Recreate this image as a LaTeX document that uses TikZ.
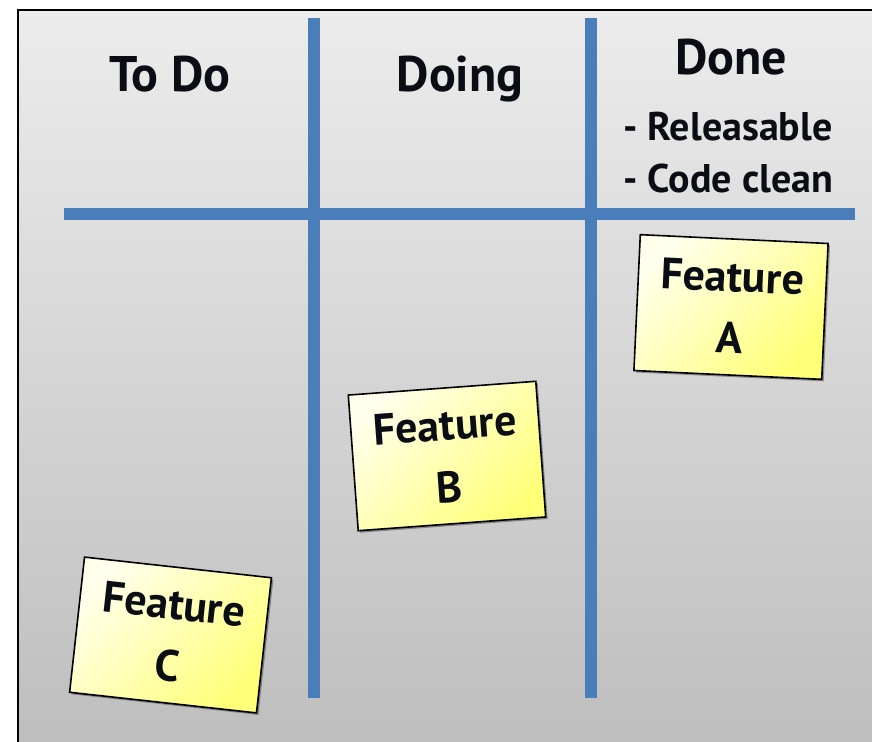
\documentclass[tikz,border=0pt]{standalone}
\usepackage{fontspec}
\setmainfont{PT Sans}
\usetikzlibrary{shadows}
\definecolor{boardtop}{RGB}{236,236,236}
\definecolor{boardbottom}{RGB}{189,189,189}
\definecolor{laneblue}{RGB}{74,126,187}
\definecolor{inkblack}{RGB}{10,14,20}
\definecolor{notelight}{RGB}{255,255,236}
\definecolor{notedark}{RGB}{255,255,120}

\begin{document}
\begin{tikzpicture}[x=1pt,y=-1pt,
  lane/.style={draw=laneblue, line width=12pt},
  heading/.style={text=inkblack, font=\bfseries\fontsize{50}{60}\selectfont, anchor=base, inner sep=0pt},
  criterion/.style={text=inkblack, font=\bfseries\fontsize{40}{50}\selectfont, anchor=base west, inner sep=0pt},
  sticky/.style={draw=black, line width=1.6pt, minimum width=188pt, minimum height=136pt,
    top color=notelight, bottom color=notedark, shading angle=45,
    align=center, text=inkblack, font=\bfseries\fontsize{44}{62}\selectfont, inner sep=0pt,
    drop shadow={shadow xshift=2pt, shadow yshift=-2pt, opacity=0.35, fill=black}}]

\useasboundingbox (0,0) rectangle (872,741);

% board
\begin{scope}
  \clip (0,0) rectangle (872,741);
  \shade[top color=boardtop, bottom color=boardbottom] (18,10) rectangle (900,760);
  \draw[line width=2pt, black] (18,760) -- (18,10) -- (900,10);
\end{scope}

% lane dividers
\coordinate (h1) at (64,214);
\coordinate (h2) at (855,214);
\coordinate (v1t) at (313.5,18);
\coordinate (v1b) at (313.5,698);
\coordinate (v2t) at (590.5,18);
\coordinate (v2b) at (590.5,698);
\draw[lane] (h1) -- (h2);
\draw[lane] (v1t) -- (v1b);
\draw[lane] (v2t) -- (v2b);

% column headings
\node[heading] (todo) at (170,92) {To Do};
\node[heading] (doing) at (460,92) {Doing};
\node[heading] (done) at (731,75) {Done};
\node[criterion] (releasable) at (623,140) {- Releasable};
\node[criterion] (codeclean) at (623,192) {- Code clean};

% sticky notes
\node[sticky, rotate=-2.7] (featA) at (731,307) {Feature\\A};
\node[sticky, rotate=4.2] (featB) at (447,456) {Feature\\B};
\node[sticky, rotate=-6.3] (featC) at (170.5,635) {Feature\\C};
\end{tikzpicture}
\end{document}
